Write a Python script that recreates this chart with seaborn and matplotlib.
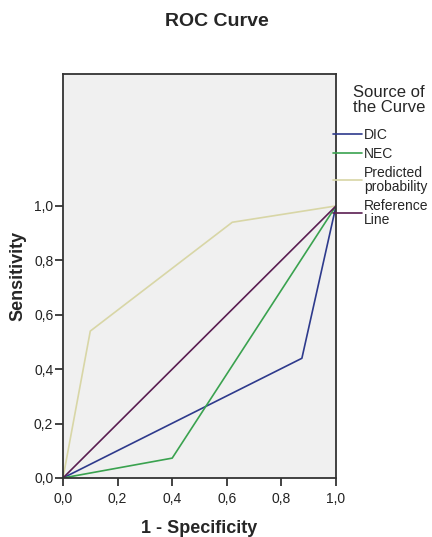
import numpy as np
import pandas as pd
import matplotlib
matplotlib.use("Agg")
import matplotlib.pyplot as plt
from matplotlib.ticker import FuncFormatter
import seaborn as sns

# ROC points (1 - specificity, sensitivity)
dic_fpr = [0.0, 0.875, 1.0]
dic_tpr = [0.0, 0.44, 1.0]
nec_fpr = [0.0, 0.40, 1.0]
nec_tpr = [0.0, 0.073, 1.0]
pred_fpr = [0.0, 0.10, 0.62, 1.0]
pred_tpr = [0.0, 0.54, 0.94, 1.0]
ref_fpr = [0.0, 1.0]
ref_tpr = [0.0, 1.0]

sources = ["DIC", "NEC", "Predicted\nprobability", "Reference\nLine"]
colors = ["#2E3A8C", "#3AA24F", "#D8D6A6", "#5A1E52"]
ticks = [0.0, 0.2, 0.4, 0.6, 0.8, 1.0]

frames = []
for name, fx, ty in zip(sources, [dic_fpr, nec_fpr, pred_fpr, ref_fpr],
                        [dic_tpr, nec_tpr, pred_tpr, ref_tpr]):
    frames.append(pd.DataFrame({"fpr": fx, "tpr": ty, "source": name}))
df = pd.concat(frames, ignore_index=True)

sns.set_style("ticks")
plt.rcParams['font.family'] = ['Liberation Sans', 'DejaVu Sans']

fig = plt.figure(figsize=(4.32, 5.37), dpi=100)
ax = fig.add_axes([0.1458, 0.1099, 0.632, 0.7523])
ax.set_facecolor("#F0F0F0")

sns.lineplot(data=df, x="fpr", y="tpr", hue="source", palette=colors,
             sort=False, estimator=None, linewidth=1.2, ax=ax)

ax.set_xlim(0, 1)
ax.set_ylim(0, 1.485)
ax.set_xticks(ticks)
ax.set_yticks(ticks)
fmt = FuncFormatter(lambda v, p: f"{v:.1f}".replace(".", ","))
ax.xaxis.set_major_formatter(fmt)
ax.yaxis.set_major_formatter(fmt)
ax.tick_params(direction="out", length=6, width=1.2, color="#222222",
               labelsize=10, labelcolor="#222222")
ax.tick_params(axis="x", pad=4)
ax.tick_params(axis="y", pad=1)
for s in ax.spines.values():
    s.set_color("#333333")
    s.set_linewidth(1.3)

ax.set_xlabel("1 - Specificity", fontsize=13, fontweight="bold", labelpad=10)
ax.set_ylabel("Sensitivity", fontsize=13, fontweight="bold", labelpad=5)
fig.text(0.502, 1 - 22 / 537, "ROC Curve", ha="center", va="center",
         fontsize=14, fontweight="bold")

fig.text(353 / 432, 1 - 100 / 537, "Source of\nthe Curve", ha="left",
         va="center", fontsize=12, linespacing=1.0)
leg = ax.legend(loc="upper left", bbox_to_anchor=(333 / 432, 1 - 128 / 537),
                bbox_transform=fig.transFigure, frameon=False, fontsize=10,
                handlelength=2.1, handletextpad=0.15, labelspacing=0.35,
                borderpad=0, borderaxespad=0)
for t in leg.get_texts():
    t.set_linespacing(1.0)

fig.savefig("out.png", dpi=100)
